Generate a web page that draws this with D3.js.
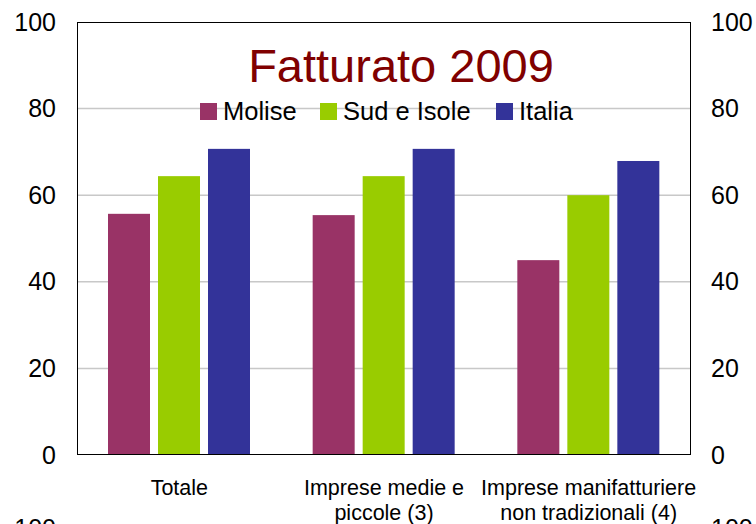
<!DOCTYPE html>
<html><head><meta charset="utf-8">
<script src="https://cdn.jsdelivr.net/npm/d3@7"></script>
<style>body{margin:0;background:#fff}svg{display:block}text{font-family:"Liberation Sans",Arial,sans-serif}</style>
</head><body>
<script>
const categories = [["Totale"], ["Imprese medie e", "piccole (3)"], ["Imprese manifatturiere", "non tradizionali (4)"]];
const seriesNames = ["Molise", "Sud e Isole", "Italia"];
const molise = [55.7, 55.4, 45.0];
const sudIsole = [64.4, 64.4, 60.0];
const italia = [70.7, 70.7, 67.9];
const yTicks = [0, 20, 40, 60, 80, 100];
const colors = ["#993366", "#99CC00", "#333399"];
const title = "Fatturato 2009";

const values = [molise, sudIsole, italia];
const W = 756, H = 524;
const L = 77, R = 691, T = 22, B = 455;
const svg = d3.select("body").append("svg").attr("width", W).attr("height", H);

const x0 = d3.scaleBand().domain(d3.range(categories.length)).range([L, R]).paddingInner(0).paddingOuter(0);
const x1 = d3.scaleBand().domain(d3.range(seriesNames.length)).range([31, 173]).paddingInner(0.16).paddingOuter(0);
const y = d3.scaleLinear().domain([0, 100]).range([B, T]);

// gridlines
svg.append("g").selectAll("line").data(yTicks.filter(t => t > 0 && t < 100)).join("line")
  .attr("x1", L).attr("x2", R).attr("y1", d => y(d)).attr("y2", d => y(d))
  .attr("stroke", "#c8c8c8").attr("stroke-width", 1.5);

// bars
const rows = [];
categories.forEach((c, i) => values.forEach((s, j) => rows.push({i, j, v: s[i]})));
svg.append("g").selectAll("rect").data(rows).join("rect")
  .attr("x", d => x0(d.i) + x1(d.j)).attr("width", x1.bandwidth())
  .attr("y", d => y(d.v)).attr("height", d => y(0) - y(d.v))
  .attr("fill", d => colors[d.j]);

// frame
svg.append("rect").attr("x", L + 0.5).attr("y", T + 0.5).attr("width", R - L - 1).attr("height", B - T - 1)
  .attr("fill", "none").attr("stroke", "#000").attr("stroke-width", 1);

// axes
const axL = svg.append("g").attr("transform", `translate(${L},0)`)
  .call(d3.axisLeft(y).tickValues(yTicks).tickSize(0).tickPadding(21).tickFormat(d3.format("d")));
const axR = svg.append("g").attr("transform", `translate(${R},0)`)
  .call(d3.axisRight(y).tickValues(yTicks).tickSize(0).tickPadding(20).tickFormat(d3.format("d")));
[axL, axR].forEach(a => {
  a.select(".domain").remove();
  a.selectAll("text").attr("font-size", 25).attr("fill", "#000").style("font-family", '"Liberation Sans",Arial,sans-serif');
});

// partial "100" of following chart (cut off at the bottom edge, as in the reference)
svg.append("text").attr("x", L - 21).attr("y", 537).attr("text-anchor", "end").attr("font-size", 25).text("100");
svg.append("text").attr("x", R + 20).attr("y", 537).attr("text-anchor", "start").attr("font-size", 25).text("100");

// category labels
categories.forEach((lines, i) => {
  const cx = x0(i) + x0.bandwidth() / 2;
  lines.forEach((t, k) => {
    svg.append("text").attr("x", cx).attr("y", 495 + k * 25).attr("text-anchor", "middle")
      .attr("font-size", 21.5).attr("fill", "#000").text(t);
  });
});

// title
svg.append("text").attr("x", 401).attr("y", 82).attr("text-anchor", "middle")
  .attr("font-size", 47).attr("fill", "#800000").text(title);

// legend
const legX = [200, 320, 496];
seriesNames.forEach((n, j) => {
  svg.append("rect").attr("x", legX[j]).attr("y", 103).attr("width", 17).attr("height", 17).attr("fill", colors[j]);
  svg.append("text").attr("x", legX[j] + 23).attr("y", 119.5).attr("font-size", 25.5).attr("fill", "#000").text(n);
});
</script>
</body></html>
